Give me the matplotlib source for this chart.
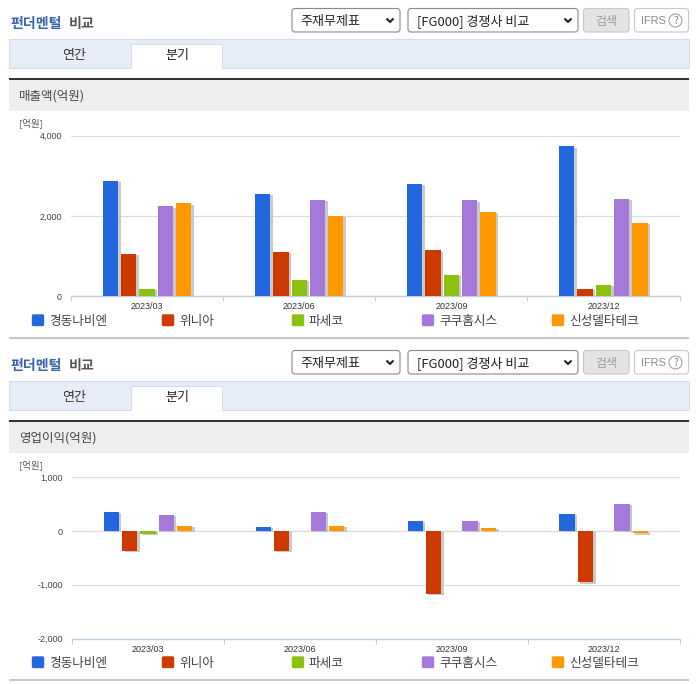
import matplotlib
matplotlib.use("Agg")
import matplotlib.pyplot as plt
import matplotlib.patheffects as pe
from matplotlib.patches import Rectangle, FancyBboxPatch
from matplotlib.ticker import FuncFormatter, FixedLocator

plt.rcParams['font.family'] = ['Noto Sans CJK KR', 'DejaVu Sans']

quarters = ['2023/03', '2023/06', '2023/09', '2023/12']
companies = ['경동나비엔', '위니아', '파세코', '쿠쿠홈시스', '신성델타테크']
colors = ['#2268DC', '#CC3A00', '#8CC20F', '#A678D8', '#FF9900']

sales_kyungdong = [2883, 2558, 2808, 3733]
sales_winia = [1058, 1108, 1142, 183]
sales_paseco = [192, 408, 533, 283]
sales_cuckoo = [2242, 2408, 2392, 2433]
sales_shinsung = [2317, 2008, 2108, 1833]

op_kyungdong = [358, 80, 191, 321]
op_winia = [-364, -364, -1167, -957]
op_paseco = [-50, 0, 0, 0]
op_cuckoo = [302, 358, 191, 506]
op_shinsung = [99, 99, 62, -43]

sales = [sales_kyungdong, sales_winia, sales_paseco, sales_cuckoo, sales_shinsung]
op = [op_kyungdong, op_winia, op_paseco, op_cuckoo, op_shinsung]

W, H = 696, 684
fig = plt.figure(figsize=(W / 100, H / 100), dpi=100, facecolor='white')
bg = fig.add_axes([0, 0, 1, 1], zorder=0)
bg.set_xlim(0, W); bg.set_ylim(H, 0); bg.axis('off')


def px(s):
    return s * 0.72


def rect(x0, y0, x1, y1, fc, ec='none', lw=0.0):
    bg.add_patch(Rectangle((x0, y0), x1 - x0, y1 - y0, fc=fc, ec=ec, lw=lw))


def rbox(x0, y0, x1, y1, fc, ec, r=3, lw=0.8):
    bg.add_patch(FancyBboxPatch((x0 + r, y0 + r), x1 - x0 - 2 * r, y1 - y0 - 2 * r,
                                boxstyle=f'round,pad={r},rounding_size={r}',
                                fc=fc, ec=ec, lw=lw))


def chevron(x, y):
    bg.plot([x - 3.5, x, x + 3.5], [y - 2, y + 1.5, y - 2], color='#222222', lw=1.5,
            solid_capstyle='butt')


def chrome(dy, label):
    bg.text(10, 24 + dy, '펀더멘털', color='#3A62B0', fontsize=px(14), fontweight='bold', va='center')
    bg.text(69, 24 + dy, '비교', color='#555555', fontsize=px(14), fontweight='bold', va='center')
    rbox(292, 8.5 + dy, 400, 32 + dy, 'white', '#8a8a8a')
    bg.text(300, 21.5 + dy, '주재무제표', fontsize=px(13), color='#222222', va='center')
    chevron(390, 20.5 + dy)
    rbox(408, 8.5 + dy, 578, 32 + dy, 'white', '#8a8a8a')
    bg.text(417, 21.5 + dy, '[FG000] 경쟁사 비교', fontsize=px(13), color='#222222', va='center')
    chevron(568, 20.5 + dy)
    rbox(583.5, 8.5 + dy, 629, 32 + dy, '#E4E4E4', '#C8C8C8')
    bg.text(606.5, 21 + dy, '검색', fontsize=px(12), color='#9a9a9a', va='center', ha='center')
    rbox(634.5, 8.5 + dy, 688.5, 32 + dy, 'white', '#C8C8C8')
    bg.text(641, 20.5 + dy, 'IFRS', fontsize=px(11), color='#8a8a8a', va='center', family='Liberation Sans')
    bg.add_patch(plt.Circle((675.5, 20.5 + dy), 6.5, fc='white', ec='#a0a0a0', lw=0.8))
    bg.text(675.5, 21 + dy, '?', fontsize=px(10), color='#808080', va='center', ha='center')
    rect(9, 38.5 + dy, 689, 67.5 + dy, '#E6EDF7', '#D5DDE8', 0.8)
    rect(131, 43.5 + dy, 222, 68 + dy, 'white', '#D5DDE8', 0.8)
    rect(131.5, 66.5 + dy, 221.5, 68.5 + dy, 'white')
    bg.text(74, 55 + dy, '연간', fontsize=px(13), color='#333333', va='center', ha='center')
    bg.text(177, 55.5 + dy, '분기', fontsize=px(13), color='#222222', va='center', ha='center')
    rect(9, 80 + dy, 689, 110.5 + dy, '#EEEEEE')
    rect(9, 110.5 + dy, 689, 111 + dy, '#E0E0E0')
    rect(9, 78 + dy, 689, 80 + dy, '#333333')
    bg.text(19, 96.5 + dy, label, fontsize=px(12.5), color='#444444', va='center')
    bg.text(19, 123 + dy, '[억원]', fontsize=px(9.5), color='#555555', va='center')
    rect(9, 336.5 + dy, 689, 338.5 + dy, '#C8C8C8')
    for i, (name, c) in enumerate(zip(companies, colors)):
        x = 32 + 130 * i
        rbox(x, 314.5 + dy, x + 12, 326 + dy, c, c, r=1.5, lw=0.3)
        bg.text(x + 17, 321 + dy, name, fontsize=px(12.7), color='#444444', va='center')


def chart(series, x0, x1, ytop, ybot, ymin, ymax, yticks):
    ax = fig.add_axes([x0 / W, 1 - ybot / H, (x1 - x0) / W, (ybot - ytop) / H], zorder=2)
    ax.patch.set_alpha(0)
    ax.set_xlim(-0.5, 3.5)
    ax.set_ylim(ymin, ymax)
    for j, vals in enumerate(series):
        for k, v in enumerate(vals):
            if v == 0:
                continue
            ax.bar(k + (j - 2) * 0.1205, v, width=0.1005, color=colors[j], zorder=3,
                   path_effects=[pe.SimplePatchShadow(offset=(1.8, -1.0), shadow_rgbFace='#C4C4C4', alpha=0.9),
                                 pe.Normal()])
    ax.set_yticks(yticks)
    ax.yaxis.set_major_formatter(FuncFormatter(lambda v, _: f'{int(v):,}'))
    ax.set_xticks(range(len(quarters)))
    ax.set_xticklabels(quarters)
    ax.xaxis.set_minor_locator(FixedLocator([-0.5, 0.5, 1.5, 2.5, 3.5]))
    ax.grid(axis='y', color='#DDDDDD', lw=0.9, zorder=1)
    ax.set_axisbelow(True)
    for s in ['top', 'right', 'left']:
        ax.spines[s].set_visible(False)
    ax.spines['bottom'].set_color('#C0D0E0')
    ax.spines['bottom'].set_linewidth(1.0)
    ax.tick_params(axis='y', length=0, pad=px(9), labelsize=px(9), labelcolor='#444444')
    ax.tick_params(axis='x', which='major', length=0, pad=px(6), labelsize=px(9), labelcolor='#333333')
    ax.tick_params(axis='x', which='minor', length=px(5), width=0.8, color='#C0D0E0')
    for lab in ax.get_xticklabels() + ax.get_yticklabels():
        lab.set_family('Liberation Sans')
    return ax


chrome(0, '매출액(억원)')
chrome(342, '영업이익(억원)')
chart(sales, 71, 679.5, 135.6, 296.4, 0, 4000, [0, 2000, 4000])
chart(op, 72, 679.7, 477.3, 638.5, -2000, 1000, [-2000, -1000, 0, 1000])

fig.savefig('out.png', dpi=100)
